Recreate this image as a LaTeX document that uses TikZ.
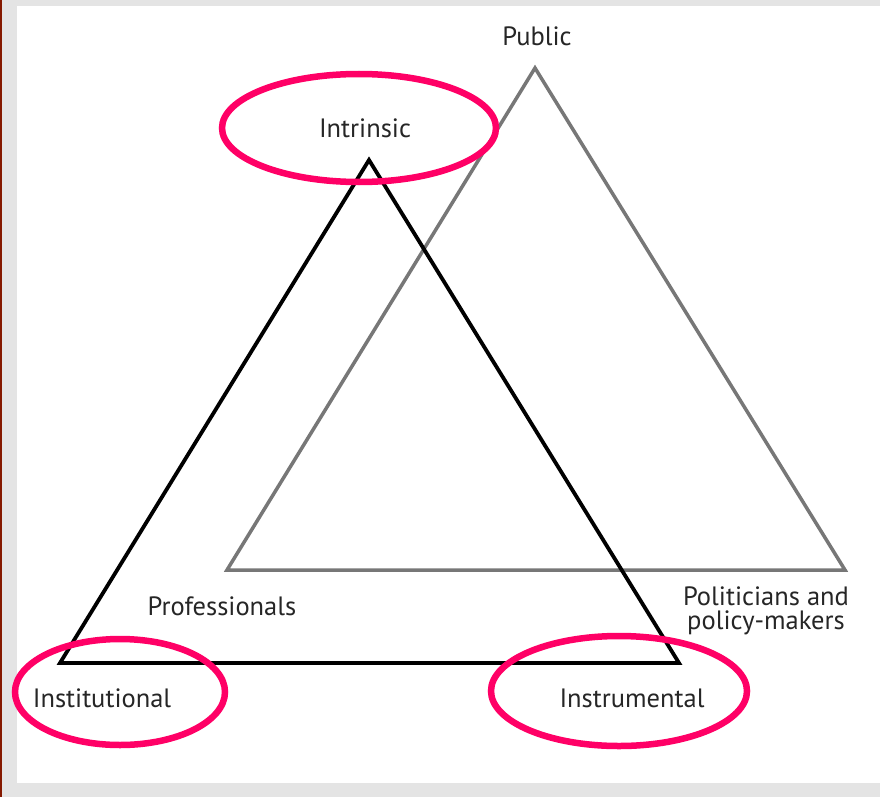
\documentclass[tikz,border=0pt]{standalone}
\usepackage{fontspec}
\setmainfont{PT Sans}
\usetikzlibrary{positioning,shapes.geometric}
\definecolor{hilite}{HTML}{FF0066}
\definecolor{panelgray}{HTML}{E4E4E4}
\definecolor{edgegray}{HTML}{777777}

\begin{document}
\begin{tikzpicture}[x=1pt,y=-1pt,line join=miter,
                    lbl/.style={font=\fontsize{26.5}{24}\selectfont,text=black!85,inner sep=0pt},
                    ring/.style={draw=hilite,line width=6.5pt,ellipse,inner sep=0pt}]

        % background and panel
        \fill[panelgray] (0,0) rectangle (880,797);
        \fill[white] (17,6) rectangle (880,783);
        \fill[black!60!red!80!orange] (0,0) rectangle (2,797);
        \useasboundingbox (0,0) rectangle (880,797);

        % the two triangles
        \coordinate (pub) at (535,68);
        \coordinate (pro) at (227,570);
        \coordinate (pol) at (845,570);
        \coordinate (int) at (369,160);
        \coordinate (ins) at (60,663);
        \coordinate (ist) at (679,663);

        \draw[edgegray,line width=3.5pt] (pub) -- (pro) -- (pol) -- cycle;
        \draw[black,line width=3.8pt] (int) -- (ins) -- (ist) -- cycle;

        % labels
        \node[lbl] (tpub) at (537,36) {Public};
        \node[lbl] (tint) at (365,128) {Intrinsic};
        \node[lbl] (tpro) at (222,606) {Professionals};
        \node[lbl,align=center] (tpol) at (766,611) {Politicians and\\policy-makers};
        \node[lbl] (tins) at (102,698) {Institutional};
        \node[lbl] (tist) at (632,698) {Instrumental};

        % highlight rings
        \node[ring,minimum width=274pt,minimum height=108pt] (rint) at (359,128) {};
        \node[ring,minimum width=210pt,minimum height=106pt] (rins) at (120,692) {};
        \node[ring,minimum width=256pt,minimum height=110pt] (rist) at (619,691) {};
      \end{tikzpicture}
\end{document}
